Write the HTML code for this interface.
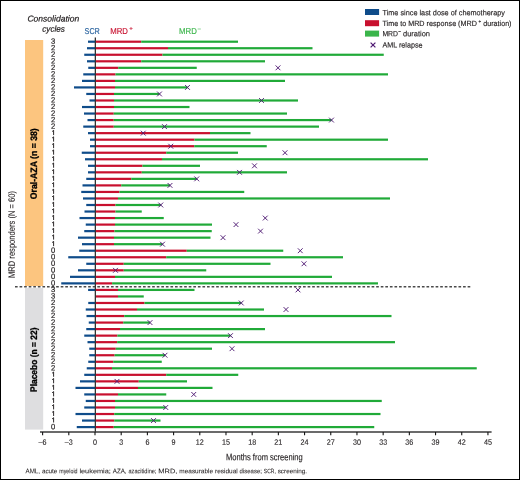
<!DOCTYPE html><html><head><meta charset="utf-8"><title>MRD responders swimmer plot</title><style>html,body{margin:0;padding:0;background:#fff;}svg{display:block;will-change:transform;}text{font-family:"Liberation Sans",sans-serif;}</style></head><body>
<svg width="520" height="480" viewBox="0 0 520 480">
<rect x="0" y="0" width="520" height="480" fill="#fff"/>
<rect x="25" y="40" width="18.2" height="246" fill="#FCC57F"/>
<rect x="25" y="288" width="18.2" height="141.6" fill="#DEDEE0"/>
<line x1="15" y1="286.75" x2="470.7" y2="286.75" stroke="#4a4a4a" stroke-width="1.45" stroke-dasharray="2.65 1.922"/>
<text transform="translate(14.8,234.5) rotate(-89.95)" font-size="9.2" fill="#231F20" text-anchor="middle" textLength="87" lengthAdjust="spacingAndGlyphs" stroke="#231F20" stroke-width="0.12">MRD responders (N = 60)</text>
<text transform="translate(36.9,163.75) rotate(-89.95)" font-size="9.3" fill="#000" text-anchor="middle" font-weight="bold" textLength="71" lengthAdjust="spacingAndGlyphs" stroke="#000" stroke-width="0.3">Oral-AZA (n = 38)</text>
<text transform="translate(36.9,359.75) rotate(-89.95)" font-size="9.3" fill="#000" text-anchor="middle" font-weight="bold" textLength="64.5" lengthAdjust="spacingAndGlyphs" stroke="#000" stroke-width="0.3">Placebo (n = 22)</text>
<text transform="rotate(0.05 53.3 21.6)" x="53.3" y="21.6" font-size="8.5" fill="#231F20" text-anchor="middle" font-style="italic" textLength="51.8" lengthAdjust="spacingAndGlyphs" stroke="#231F20" stroke-width="0.22">Consolidation</text>
<text transform="rotate(0.05 53.6 31.8)" x="53.6" y="31.8" font-size="8.5" fill="#231F20" text-anchor="middle" font-style="italic" textLength="22.6" lengthAdjust="spacingAndGlyphs" stroke="#231F20" stroke-width="0.22">cycles</text>
<text transform="rotate(0.05 84.6 33.9)" x="84.6" y="33.9" font-size="8.5" fill="#336AA3" textLength="15.2" lengthAdjust="spacingAndGlyphs" stroke="#336AA3" stroke-width="0.22">SCR</text>
<text transform="rotate(0.05 110.2 33.9)" x="110.2" y="33.9" font-size="8.5" fill="#C8102E" textLength="17.7" lengthAdjust="spacingAndGlyphs" stroke="#C8102E" stroke-width="0.15">MRD</text>
<text transform="rotate(0.05 129.25 30.6)" x="129.25" y="30.6" font-size="6" fill="#C8102E" stroke="#C8102E" stroke-width="0.15">+</text>
<text transform="rotate(0.05 179 33.9)" x="179" y="33.9" font-size="8.5" fill="#3AB54A" textLength="17.8" lengthAdjust="spacingAndGlyphs" stroke="#3AB54A" stroke-width="0.15">MRD</text>
<text transform="rotate(0.05 197.6 30.9)" x="197.6" y="30.9" font-size="6" fill="#3AB54A" stroke="#3AB54A" stroke-width="0.15">−</text>
<rect x="88" y="40.6" width="7" height="2.2" fill="#0F4C8A"/><rect x="95" y="40.6" width="46.25" height="2.2" fill="#C8102E"/><rect x="141.25" y="40.6" width="96.75" height="2.2" fill="#20AA38"/><rect x="87" y="47.13" width="8" height="2.2" fill="#0F4C8A"/><rect x="95" y="47.13" width="73" height="2.2" fill="#C8102E"/><rect x="168" y="47.13" width="144.5" height="2.2" fill="#20AA38"/><rect x="84.25" y="53.66" width="10.75" height="2.2" fill="#0F4C8A"/><rect x="95" y="53.66" width="67.5" height="2.2" fill="#C8102E"/><rect x="162.5" y="53.66" width="221.25" height="2.2" fill="#20AA38"/><rect x="87" y="60.2" width="8" height="2.2" fill="#0F4C8A"/><rect x="95" y="60.2" width="46.25" height="2.2" fill="#C8102E"/><rect x="141.25" y="60.2" width="123.75" height="2.2" fill="#20AA38"/><rect x="88.25" y="66.73" width="6.75" height="2.2" fill="#0F4C8A"/><rect x="95" y="66.73" width="23.25" height="2.2" fill="#C8102E"/><rect x="118.25" y="66.73" width="78.5" height="2.2" fill="#20AA38"/><rect x="83.25" y="73.26" width="11.75" height="2.2" fill="#0F4C8A"/><rect x="95" y="73.26" width="20.5" height="2.2" fill="#C8102E"/><rect x="115.5" y="73.26" width="272.5" height="2.2" fill="#20AA38"/><rect x="82" y="79.79" width="13" height="2.2" fill="#0F4C8A"/><rect x="95" y="79.79" width="20" height="2.2" fill="#C8102E"/><rect x="115" y="79.79" width="170" height="2.2" fill="#20AA38"/><rect x="74" y="86.32" width="21" height="2.2" fill="#0F4C8A"/><rect x="95" y="86.32" width="20" height="2.2" fill="#C8102E"/><rect x="115" y="86.32" width="72.5" height="2.2" fill="#20AA38"/><rect x="86.25" y="92.86" width="8.75" height="2.2" fill="#0F4C8A"/><rect x="95" y="92.86" width="19" height="2.2" fill="#C8102E"/><rect x="114" y="92.86" width="45.5" height="2.2" fill="#20AA38"/><rect x="89.5" y="99.39" width="5.5" height="2.2" fill="#0F4C8A"/><rect x="95" y="99.39" width="19" height="2.2" fill="#C8102E"/><rect x="114" y="99.39" width="184" height="2.2" fill="#20AA38"/><rect x="82" y="105.92" width="13" height="2.2" fill="#0F4C8A"/><rect x="95" y="105.92" width="19" height="2.2" fill="#C8102E"/><rect x="114" y="105.92" width="75.5" height="2.2" fill="#20AA38"/><rect x="84" y="112.45" width="11" height="2.2" fill="#0F4C8A"/><rect x="95" y="112.45" width="18.75" height="2.2" fill="#C8102E"/><rect x="113.75" y="112.45" width="173.25" height="2.2" fill="#20AA38"/><rect x="87.5" y="118.98" width="7.5" height="2.2" fill="#0F4C8A"/><rect x="95" y="118.98" width="18.75" height="2.2" fill="#C8102E"/><rect x="113.75" y="118.98" width="217.75" height="2.2" fill="#20AA38"/><rect x="83.25" y="125.52" width="11.75" height="2.2" fill="#0F4C8A"/><rect x="95" y="125.52" width="18.75" height="2.2" fill="#C8102E"/><rect x="113.75" y="125.52" width="205.25" height="2.2" fill="#20AA38"/><rect x="88" y="132.05" width="7" height="2.2" fill="#0F4C8A"/><rect x="95" y="132.05" width="115" height="2.2" fill="#C8102E"/><rect x="210" y="132.05" width="40.5" height="2.2" fill="#20AA38"/><rect x="90" y="138.58" width="5" height="2.2" fill="#0F4C8A"/><rect x="95" y="138.58" width="99.5" height="2.2" fill="#C8102E"/><rect x="194.5" y="138.58" width="193.5" height="2.2" fill="#20AA38"/><rect x="90" y="145.11" width="5" height="2.2" fill="#0F4C8A"/><rect x="95" y="145.11" width="99.25" height="2.2" fill="#C8102E"/><rect x="194.25" y="145.11" width="72.5" height="2.2" fill="#20AA38"/><rect x="81.75" y="151.64" width="13.25" height="2.2" fill="#0F4C8A"/><rect x="95" y="151.64" width="71.25" height="2.2" fill="#C8102E"/><rect x="166.25" y="151.64" width="71.75" height="2.2" fill="#20AA38"/><rect x="85" y="158.18" width="10" height="2.2" fill="#0F4C8A"/><rect x="95" y="158.18" width="67" height="2.2" fill="#C8102E"/><rect x="162" y="158.18" width="266" height="2.2" fill="#20AA38"/><rect x="88" y="164.71" width="7" height="2.2" fill="#0F4C8A"/><rect x="95" y="164.71" width="47.5" height="2.2" fill="#C8102E"/><rect x="142.5" y="164.71" width="57.5" height="2.2" fill="#20AA38"/><rect x="88" y="171.24" width="7" height="2.2" fill="#0F4C8A"/><rect x="95" y="171.24" width="46.75" height="2.2" fill="#C8102E"/><rect x="141.75" y="171.24" width="145.25" height="2.2" fill="#20AA38"/><rect x="86.25" y="177.77" width="8.75" height="2.2" fill="#0F4C8A"/><rect x="95" y="177.77" width="36.25" height="2.2" fill="#C8102E"/><rect x="131.25" y="177.77" width="65.5" height="2.2" fill="#20AA38"/><rect x="82.5" y="184.3" width="12.5" height="2.2" fill="#0F4C8A"/><rect x="95" y="184.3" width="26.25" height="2.2" fill="#C8102E"/><rect x="121.25" y="184.3" width="48.75" height="2.2" fill="#20AA38"/><rect x="81.25" y="190.84" width="13.75" height="2.2" fill="#0F4C8A"/><rect x="95" y="190.84" width="24.5" height="2.2" fill="#C8102E"/><rect x="119.5" y="190.84" width="124.75" height="2.2" fill="#20AA38"/><rect x="83" y="197.37" width="12" height="2.2" fill="#0F4C8A"/><rect x="95" y="197.37" width="23" height="2.2" fill="#C8102E"/><rect x="118" y="197.37" width="272" height="2.2" fill="#20AA38"/><rect x="86.25" y="203.9" width="8.75" height="2.2" fill="#0F4C8A"/><rect x="95" y="203.9" width="20.5" height="2.2" fill="#C8102E"/><rect x="115.5" y="203.9" width="45.25" height="2.2" fill="#20AA38"/><rect x="84.5" y="210.43" width="10.5" height="2.2" fill="#0F4C8A"/><rect x="95" y="210.43" width="20.5" height="2.2" fill="#C8102E"/><rect x="115.5" y="210.43" width="26.25" height="2.2" fill="#20AA38"/><rect x="79.5" y="216.96" width="15.5" height="2.2" fill="#0F4C8A"/><rect x="95" y="216.96" width="20" height="2.2" fill="#C8102E"/><rect x="115" y="216.96" width="48.75" height="2.2" fill="#20AA38"/><rect x="85.75" y="223.5" width="9.25" height="2.2" fill="#0F4C8A"/><rect x="95" y="223.5" width="20" height="2.2" fill="#C8102E"/><rect x="115" y="223.5" width="97" height="2.2" fill="#20AA38"/><rect x="84.25" y="230.03" width="10.75" height="2.2" fill="#0F4C8A"/><rect x="95" y="230.03" width="19.5" height="2.2" fill="#C8102E"/><rect x="114.5" y="230.03" width="97.25" height="2.2" fill="#20AA38"/><rect x="78" y="236.56" width="17" height="2.2" fill="#0F4C8A"/><rect x="95" y="236.56" width="19" height="2.2" fill="#C8102E"/><rect x="114" y="236.56" width="96.5" height="2.2" fill="#20AA38"/><rect x="82" y="243.09" width="13" height="2.2" fill="#0F4C8A"/><rect x="95" y="243.09" width="19" height="2.2" fill="#C8102E"/><rect x="114" y="243.09" width="48.5" height="2.2" fill="#20AA38"/><rect x="79.25" y="249.62" width="15.75" height="2.2" fill="#0F4C8A"/><rect x="95" y="249.62" width="91.75" height="2.2" fill="#C8102E"/><rect x="186.75" y="249.62" width="96.5" height="2.2" fill="#20AA38"/><rect x="68.25" y="256.16" width="26.75" height="2.2" fill="#0F4C8A"/><rect x="95" y="256.16" width="71.25" height="2.2" fill="#C8102E"/><rect x="166.25" y="256.16" width="176.75" height="2.2" fill="#20AA38"/><rect x="86.25" y="262.69" width="8.75" height="2.2" fill="#0F4C8A"/><rect x="95" y="262.69" width="28.75" height="2.2" fill="#C8102E"/><rect x="123.75" y="262.69" width="146.75" height="2.2" fill="#20AA38"/><rect x="78" y="269.22" width="17" height="2.2" fill="#0F4C8A"/><rect x="95" y="269.22" width="28.75" height="2.2" fill="#C8102E"/><rect x="123.75" y="269.22" width="82.5" height="2.2" fill="#20AA38"/><rect x="70" y="275.75" width="25" height="2.2" fill="#0F4C8A"/><rect x="95" y="275.75" width="20" height="2.2" fill="#C8102E"/><rect x="115" y="275.75" width="217" height="2.2" fill="#20AA38"/><rect x="61.25" y="282.28" width="33.75" height="2.2" fill="#0F4C8A"/><rect x="95" y="282.28" width="17.1" height="2.2" fill="#C8102E"/><rect x="112.1" y="282.28" width="265.9" height="2.2" fill="#20AA38"/><rect x="88.1" y="288.82" width="6.9" height="2.2" fill="#0F4C8A"/><rect x="95" y="288.82" width="23" height="2.2" fill="#C8102E"/><rect x="118" y="288.82" width="76.5" height="2.2" fill="#20AA38"/><rect x="95" y="295.35" width="23" height="2.2" fill="#C8102E"/><rect x="118" y="295.35" width="25.75" height="2.2" fill="#20AA38"/><rect x="88.25" y="301.88" width="6.75" height="2.2" fill="#0F4C8A"/><rect x="95" y="301.88" width="49.5" height="2.2" fill="#C8102E"/><rect x="144.5" y="301.88" width="96.75" height="2.2" fill="#20AA38"/><rect x="85.75" y="308.41" width="9.25" height="2.2" fill="#0F4C8A"/><rect x="95" y="308.41" width="42" height="2.2" fill="#C8102E"/><rect x="137" y="308.41" width="127" height="2.2" fill="#20AA38"/><rect x="86.5" y="314.94" width="8.5" height="2.2" fill="#0F4C8A"/><rect x="95" y="314.94" width="29.25" height="2.2" fill="#C8102E"/><rect x="124.25" y="314.94" width="267.25" height="2.2" fill="#20AA38"/><rect x="88.75" y="321.48" width="6.25" height="2.2" fill="#0F4C8A"/><rect x="95" y="321.48" width="28.25" height="2.2" fill="#C8102E"/><rect x="123.25" y="321.48" width="26.75" height="2.2" fill="#20AA38"/><rect x="86.25" y="328.01" width="8.75" height="2.2" fill="#0F4C8A"/><rect x="95" y="328.01" width="25" height="2.2" fill="#C8102E"/><rect x="120" y="328.01" width="145" height="2.2" fill="#20AA38"/><rect x="84.25" y="334.54" width="10.75" height="2.2" fill="#0F4C8A"/><rect x="95" y="334.54" width="22.4" height="2.2" fill="#C8102E"/><rect x="117.4" y="334.54" width="113.1" height="2.2" fill="#20AA38"/><rect x="87.5" y="341.07" width="7.5" height="2.2" fill="#0F4C8A"/><rect x="95" y="341.07" width="22.2" height="2.2" fill="#C8102E"/><rect x="117.2" y="341.07" width="277.8" height="2.2" fill="#20AA38"/><rect x="89.25" y="347.6" width="5.75" height="2.2" fill="#0F4C8A"/><rect x="95" y="347.6" width="20.8" height="2.2" fill="#C8102E"/><rect x="115.8" y="347.6" width="96.2" height="2.2" fill="#20AA38"/><rect x="89.25" y="354.14" width="5.75" height="2.2" fill="#0F4C8A"/><rect x="95" y="354.14" width="19.6" height="2.2" fill="#C8102E"/><rect x="114.6" y="354.14" width="50.4" height="2.2" fill="#20AA38"/><rect x="88.25" y="360.67" width="6.75" height="2.2" fill="#0F4C8A"/><rect x="95" y="360.67" width="18.25" height="2.2" fill="#C8102E"/><rect x="113.25" y="360.67" width="48.5" height="2.2" fill="#20AA38"/><rect x="86.75" y="367.2" width="8.25" height="2.2" fill="#0F4C8A"/><rect x="95" y="367.2" width="17" height="2.2" fill="#C8102E"/><rect x="112" y="367.2" width="364.75" height="2.2" fill="#20AA38"/><rect x="84.25" y="373.73" width="10.75" height="2.2" fill="#0F4C8A"/><rect x="95" y="373.73" width="71.25" height="2.2" fill="#C8102E"/><rect x="166.25" y="373.73" width="72" height="2.2" fill="#20AA38"/><rect x="80" y="380.26" width="15" height="2.2" fill="#0F4C8A"/><rect x="95" y="380.26" width="43.75" height="2.2" fill="#C8102E"/><rect x="138.75" y="380.26" width="48.25" height="2.2" fill="#20AA38"/><rect x="75.5" y="386.8" width="19.5" height="2.2" fill="#0F4C8A"/><rect x="95" y="386.8" width="43" height="2.2" fill="#C8102E"/><rect x="138" y="386.8" width="74.5" height="2.2" fill="#20AA38"/><rect x="84.25" y="393.33" width="10.75" height="2.2" fill="#0F4C8A"/><rect x="95" y="393.33" width="23" height="2.2" fill="#C8102E"/><rect x="118" y="393.33" width="48.25" height="2.2" fill="#20AA38"/><rect x="85.75" y="399.86" width="9.25" height="2.2" fill="#0F4C8A"/><rect x="95" y="399.86" width="20" height="2.2" fill="#C8102E"/><rect x="115" y="399.86" width="266.75" height="2.2" fill="#20AA38"/><rect x="84.25" y="406.39" width="10.75" height="2.2" fill="#0F4C8A"/><rect x="95" y="406.39" width="20" height="2.2" fill="#C8102E"/><rect x="115" y="406.39" width="50.75" height="2.2" fill="#20AA38"/><rect x="75.5" y="412.92" width="19.5" height="2.2" fill="#0F4C8A"/><rect x="95" y="412.92" width="19.25" height="2.2" fill="#C8102E"/><rect x="114.25" y="412.92" width="266.25" height="2.2" fill="#20AA38"/><rect x="82" y="419.46" width="13" height="2.2" fill="#0F4C8A"/><rect x="95" y="419.46" width="19.25" height="2.2" fill="#C8102E"/><rect x="114.25" y="419.46" width="46.25" height="2.2" fill="#20AA38"/><rect x="76.75" y="425.99" width="18.25" height="2.2" fill="#0F4C8A"/><rect x="95" y="425.99" width="18.75" height="2.2" fill="#C8102E"/><rect x="113.75" y="425.99" width="260.5" height="2.2" fill="#20AA38"/>
<line x1="95.35" y1="37.4" x2="95.35" y2="432" stroke="#333" stroke-width="1.3"/>
<path d="M275.6 65.43L280.4 70.23M275.6 70.23L280.4 65.43M185.1 85.02L189.9 89.82M185.1 89.82L189.9 85.02M157.1 91.56L161.9 96.36M157.1 96.36L161.9 91.56M259.1 98.09L263.9 102.89M259.1 102.89L263.9 98.09M329.1 117.68L333.9 122.48M329.1 122.48L333.9 117.68M162.1 124.22L166.9 129.02M162.1 129.02L166.9 124.22M140.85 130.75L145.65 135.55M140.85 135.55L145.65 130.75M168.35 143.81L173.15 148.61M168.35 148.61L173.15 143.81M282.6 150.34L287.4 155.14M282.6 155.14L287.4 150.34M252.1 163.41L256.9 168.21M252.1 168.21L256.9 163.41M237.1 169.94L241.9 174.74M237.1 174.74L241.9 169.94M194.35 176.47L199.15 181.27M194.35 181.27L199.15 176.47M167.6 183L172.4 187.8M167.6 187.8L172.4 183M158.35 202.6L163.15 207.4M158.35 207.4L163.15 202.6M262.85 215.66L267.65 220.46M262.85 220.46L267.65 215.66M233.6 222.2L238.4 227M233.6 227L238.4 222.2M258.1 228.73L262.9 233.53M258.1 233.53L262.9 228.73M220.6 235.26L225.4 240.06M220.6 240.06L225.4 235.26M160.1 241.79L164.9 246.59M160.1 246.59L164.9 241.79M297.85 248.32L302.65 253.12M297.85 253.12L302.65 248.32M301.6 261.39L306.4 266.19M301.6 266.19L306.4 261.39M113.1 267.92L117.9 272.72M113.1 272.72L117.9 267.92M295.6 287.52L300.4 292.32M295.6 292.32L300.4 287.52M238.85 300.58L243.65 305.38M238.85 305.38L243.65 300.58M283.6 307.11L288.4 311.91M283.6 311.91L288.4 307.11M147.6 320.18L152.4 324.98M147.6 324.98L152.4 320.18M228.1 333.24L232.9 338.04M228.1 338.04L232.9 333.24M229.6 346.3L234.4 351.1M229.6 351.1L234.4 346.3M162.6 352.84L167.4 357.64M162.6 357.64L167.4 352.84M114.6 378.96L119.4 383.76M114.6 383.76L119.4 378.96M191.35 392.03L196.15 396.83M191.35 396.83L196.15 392.03M163.35 405.09L168.15 409.89M163.35 409.89L168.15 405.09M151.1 418.16L155.9 422.96M151.1 422.96L155.9 418.16" fill="none" stroke="#4F1A73" stroke-width="0.95"/>
<g fill="#231F20" stroke="#231F20" stroke-width="0.2"><text transform="rotate(0.05 53.15 43.8)" x="53.15" y="43.8" font-size="7.6" text-anchor="middle">3</text><text transform="rotate(0.05 53.15 50.33)" x="53.15" y="50.33" font-size="7.6" text-anchor="middle">2</text><text transform="rotate(0.05 53.15 56.86)" x="53.15" y="56.86" font-size="7.6" text-anchor="middle">2</text><text transform="rotate(0.05 53.15 63.4)" x="53.15" y="63.4" font-size="7.6" text-anchor="middle">2</text><text transform="rotate(0.05 53.15 69.93)" x="53.15" y="69.93" font-size="7.6" text-anchor="middle">2</text><text transform="rotate(0.05 53.15 76.46)" x="53.15" y="76.46" font-size="7.6" text-anchor="middle">2</text><text transform="rotate(0.05 53.15 82.99)" x="53.15" y="82.99" font-size="7.6" text-anchor="middle">2</text><text transform="rotate(0.05 53.15 89.52)" x="53.15" y="89.52" font-size="7.6" text-anchor="middle">2</text><text transform="rotate(0.05 53.15 96.06)" x="53.15" y="96.06" font-size="7.6" text-anchor="middle">2</text><text transform="rotate(0.05 53.15 102.59)" x="53.15" y="102.59" font-size="7.6" text-anchor="middle">2</text><text transform="rotate(0.05 53.15 109.12)" x="53.15" y="109.12" font-size="7.6" text-anchor="middle">2</text><text transform="rotate(0.05 53.15 115.65)" x="53.15" y="115.65" font-size="7.6" text-anchor="middle">2</text><text transform="rotate(0.05 53.15 122.18)" x="53.15" y="122.18" font-size="7.6" text-anchor="middle">2</text><text transform="rotate(0.05 53.15 128.72)" x="53.15" y="128.72" font-size="7.6" text-anchor="middle">2</text><text transform="rotate(0.05 53.15 252.82)" x="53.15" y="252.82" font-size="7.6" text-anchor="middle">0</text><text transform="rotate(0.05 53.15 259.36)" x="53.15" y="259.36" font-size="7.6" text-anchor="middle">0</text><text transform="rotate(0.05 53.15 265.89)" x="53.15" y="265.89" font-size="7.6" text-anchor="middle">0</text><text transform="rotate(0.05 53.15 272.42)" x="53.15" y="272.42" font-size="7.6" text-anchor="middle">0</text><text transform="rotate(0.05 53.15 278.95)" x="53.15" y="278.95" font-size="7.6" text-anchor="middle">0</text><text transform="rotate(0.05 53.15 285.48)" x="53.15" y="285.48" font-size="7.6" text-anchor="middle">0</text><text transform="rotate(0.05 53.15 292.02)" x="53.15" y="292.02" font-size="7.6" text-anchor="middle">3</text><text transform="rotate(0.05 53.15 298.55)" x="53.15" y="298.55" font-size="7.6" text-anchor="middle">3</text><text transform="rotate(0.05 53.15 305.08)" x="53.15" y="305.08" font-size="7.6" text-anchor="middle">2</text><text transform="rotate(0.05 53.15 311.61)" x="53.15" y="311.61" font-size="7.6" text-anchor="middle">2</text><text transform="rotate(0.05 53.15 318.14)" x="53.15" y="318.14" font-size="7.6" text-anchor="middle">2</text><text transform="rotate(0.05 53.15 324.68)" x="53.15" y="324.68" font-size="7.6" text-anchor="middle">2</text><text transform="rotate(0.05 53.15 331.21)" x="53.15" y="331.21" font-size="7.6" text-anchor="middle">2</text><text transform="rotate(0.05 53.15 337.74)" x="53.15" y="337.74" font-size="7.6" text-anchor="middle">2</text><text transform="rotate(0.05 53.15 344.27)" x="53.15" y="344.27" font-size="7.6" text-anchor="middle">2</text><text transform="rotate(0.05 53.15 350.8)" x="53.15" y="350.8" font-size="7.6" text-anchor="middle">2</text><text transform="rotate(0.05 53.15 357.34)" x="53.15" y="357.34" font-size="7.6" text-anchor="middle">2</text><text transform="rotate(0.05 53.15 363.87)" x="53.15" y="363.87" font-size="7.6" text-anchor="middle">2</text><text transform="rotate(0.05 53.15 370.4)" x="53.15" y="370.4" font-size="7.6" text-anchor="middle">2</text><text transform="rotate(0.05 53.15 429.19)" x="53.15" y="429.19" font-size="7.6" text-anchor="middle">0</text></g>
<path d="M53.6 130.2V135.1M53.6 130.4L52.1 131.5M53.6 136.73V141.63M53.6 136.93L52.1 138.03M53.6 143.26V148.16M53.6 143.46L52.1 144.56M53.6 149.79V154.69M53.6 149.99L52.1 151.09M53.6 156.33V161.23M53.6 156.53L52.1 157.63M53.6 162.86V167.76M53.6 163.06L52.1 164.16M53.6 169.39V174.29M53.6 169.59L52.1 170.69M53.6 175.92V180.82M53.6 176.12L52.1 177.22M53.6 182.45V187.35M53.6 182.65L52.1 183.75M53.6 188.99V193.89M53.6 189.19L52.1 190.29M53.6 195.52V200.42M53.6 195.72L52.1 196.82M53.6 202.05V206.95M53.6 202.25L52.1 203.35M53.6 208.58V213.48M53.6 208.78L52.1 209.88M53.6 215.11V220.01M53.6 215.31L52.1 216.41M53.6 221.65V226.55M53.6 221.85L52.1 222.95M53.6 228.18V233.08M53.6 228.38L52.1 229.48M53.6 234.71V239.61M53.6 234.91L52.1 236.01M53.6 241.24V246.14M53.6 241.44L52.1 242.54M53.6 371.88V376.78M53.6 372.08L52.1 373.18M53.6 378.41V383.31M53.6 378.61L52.1 379.71M53.6 384.95V389.85M53.6 385.15L52.1 386.25M53.6 391.48V396.38M53.6 391.68L52.1 392.78M53.6 398.01V402.91M53.6 398.21L52.1 399.31M53.6 404.54V409.44M53.6 404.74L52.1 405.84M53.6 411.07V415.97M53.6 411.27L52.1 412.37M53.6 417.61V422.51M53.6 417.81L52.1 418.91" stroke="#231F20" stroke-width="0.95" fill="none"/>
<line x1="40" y1="431.9" x2="491.6" y2="431.9" stroke="#3a3a3a" stroke-width="1.5"/>
<path d="M42.61 432V435.2M68.8 432V435.2M95 432V435.2M121.2 432V435.2M147.39 432V435.2M173.59 432V435.2M199.78 432V435.2M225.98 432V435.2M252.18 432V435.2M278.37 432V435.2M304.57 432V435.2M330.76 432V435.2M356.96 432V435.2M383.16 432V435.2M409.35 432V435.2M435.55 432V435.2M461.74 432V435.2M487.94 432V435.2" stroke="#151515" stroke-width="1.1"/>
<g fill="#231F20" stroke="#231F20" stroke-width="0.12"><text transform="rotate(0.05 42.61 444.8)" x="42.61" y="444.8" font-size="7.8" text-anchor="middle" textLength="8" lengthAdjust="spacingAndGlyphs">–6</text><text transform="rotate(0.05 68.8 444.8)" x="68.8" y="444.8" font-size="7.8" text-anchor="middle" textLength="8" lengthAdjust="spacingAndGlyphs">–3</text><text transform="rotate(0.05 95 444.8)" x="95" y="444.8" font-size="7.8" text-anchor="middle" textLength="4" lengthAdjust="spacingAndGlyphs">0</text><text transform="rotate(0.05 121.2 444.8)" x="121.2" y="444.8" font-size="7.8" text-anchor="middle" textLength="4" lengthAdjust="spacingAndGlyphs">3</text><text transform="rotate(0.05 147.39 444.8)" x="147.39" y="444.8" font-size="7.8" text-anchor="middle" textLength="4" lengthAdjust="spacingAndGlyphs">6</text><text transform="rotate(0.05 173.59 444.8)" x="173.59" y="444.8" font-size="7.8" text-anchor="middle" textLength="4" lengthAdjust="spacingAndGlyphs">9</text><text transform="rotate(0.05 199.78 444.8)" x="199.78" y="444.8" font-size="7.8" text-anchor="middle" textLength="8" lengthAdjust="spacingAndGlyphs">12</text><text transform="rotate(0.05 225.98 444.8)" x="225.98" y="444.8" font-size="7.8" text-anchor="middle" textLength="8" lengthAdjust="spacingAndGlyphs">15</text><text transform="rotate(0.05 252.18 444.8)" x="252.18" y="444.8" font-size="7.8" text-anchor="middle" textLength="8" lengthAdjust="spacingAndGlyphs">18</text><text transform="rotate(0.05 278.37 444.8)" x="278.37" y="444.8" font-size="7.8" text-anchor="middle" textLength="8" lengthAdjust="spacingAndGlyphs">21</text><text transform="rotate(0.05 304.57 444.8)" x="304.57" y="444.8" font-size="7.8" text-anchor="middle" textLength="8" lengthAdjust="spacingAndGlyphs">24</text><text transform="rotate(0.05 330.76 444.8)" x="330.76" y="444.8" font-size="7.8" text-anchor="middle" textLength="8" lengthAdjust="spacingAndGlyphs">27</text><text transform="rotate(0.05 356.96 444.8)" x="356.96" y="444.8" font-size="7.8" text-anchor="middle" textLength="8" lengthAdjust="spacingAndGlyphs">30</text><text transform="rotate(0.05 383.16 444.8)" x="383.16" y="444.8" font-size="7.8" text-anchor="middle" textLength="8" lengthAdjust="spacingAndGlyphs">33</text><text transform="rotate(0.05 409.35 444.8)" x="409.35" y="444.8" font-size="7.8" text-anchor="middle" textLength="8" lengthAdjust="spacingAndGlyphs">36</text><text transform="rotate(0.05 435.55 444.8)" x="435.55" y="444.8" font-size="7.8" text-anchor="middle" textLength="8" lengthAdjust="spacingAndGlyphs">39</text><text transform="rotate(0.05 461.74 444.8)" x="461.74" y="444.8" font-size="7.8" text-anchor="middle" textLength="8" lengthAdjust="spacingAndGlyphs">42</text><text transform="rotate(0.05 487.94 444.8)" x="487.94" y="444.8" font-size="7.8" text-anchor="middle" textLength="8" lengthAdjust="spacingAndGlyphs">45</text></g>
<text transform="rotate(0.05 264.4 460.2)" x="264.4" y="460.2" font-size="9.4" fill="#231F20" text-anchor="middle" textLength="76.7" lengthAdjust="spacingAndGlyphs" stroke="#231F20" stroke-width="0.15">Months from screening</text>
<g fill="#231F20" stroke="#231F20" stroke-width="0.06"><text transform="rotate(0.05 25.5 473.3)" x="25.5" y="473.3" font-size="6.4" textLength="14.5" lengthAdjust="spacingAndGlyphs">AML,</text><text transform="rotate(0.05 41.9 473.3)" x="41.9" y="473.3" font-size="6.4" textLength="15.5" lengthAdjust="spacingAndGlyphs">acute</text><text transform="rotate(0.05 59.3 473.3)" x="59.3" y="473.3" font-size="6.4" textLength="18.2" lengthAdjust="spacingAndGlyphs">myeloid</text><text transform="rotate(0.05 79.4 473.3)" x="79.4" y="473.3" font-size="6.4" textLength="31.5" lengthAdjust="spacingAndGlyphs">leukemia;</text><text transform="rotate(0.05 112.8 473.3)" x="112.8" y="473.3" font-size="6.4" textLength="13.8" lengthAdjust="spacingAndGlyphs">AZA,</text><text transform="rotate(0.05 128.5 473.3)" x="128.5" y="473.3" font-size="6.4" textLength="27.9" lengthAdjust="spacingAndGlyphs">azacitidine;</text><text transform="rotate(0.05 158.3 473.3)" x="158.3" y="473.3" font-size="6.4" textLength="19.1" lengthAdjust="spacingAndGlyphs">MRD,</text><text transform="rotate(0.05 179.3 473.3)" x="179.3" y="473.3" font-size="6.4" textLength="33.8" lengthAdjust="spacingAndGlyphs">measurable</text><text transform="rotate(0.05 215 473.3)" x="215" y="473.3" font-size="6.4" textLength="22.7" lengthAdjust="spacingAndGlyphs">residual</text><text transform="rotate(0.05 239.6 473.3)" x="239.6" y="473.3" font-size="6.4" textLength="22.3" lengthAdjust="spacingAndGlyphs">disease;</text><text transform="rotate(0.05 263.8 473.3)" x="263.8" y="473.3" font-size="6.4" textLength="12" lengthAdjust="spacingAndGlyphs">SCR,</text><text transform="rotate(0.05 277.7 473.3)" x="277.7" y="473.3" font-size="6.4" textLength="29.3" lengthAdjust="spacingAndGlyphs">screening.</text></g>
<rect x="365" y="9" width="14.1" height="6" fill="#0F4C8A"/>
<rect x="365" y="20.2" width="14.1" height="6" fill="#C8102E"/>
<rect x="365" y="30.6" width="14.1" height="6" fill="#3AB54A"/>
<path d="M370.6 42.6L375.4 47.4M370.6 47.4L375.4 42.6" stroke="#4F1A73" stroke-width="1.2" fill="none"/>
<g fill="#231F20" stroke="#231F20" stroke-width="0.15"><text transform="rotate(0.05 382.5 15.2)" x="382.5" y="15.2" font-size="7.6" textLength="122.4" lengthAdjust="spacingAndGlyphs">Time since last dose of chemotherapy</text><text transform="rotate(0.05 382.5 26)" x="382.5" y="26" font-size="7.6" textLength="94.4" lengthAdjust="spacingAndGlyphs">Time to MRD response (MRD</text><text transform="rotate(0.05 478.4 23)" x="478.4" y="23" font-size="4.6">+</text><text transform="rotate(0.05 483.3 26)" x="483.3" y="26" font-size="7.6" textLength="28.2" lengthAdjust="spacingAndGlyphs">duration)</text><text transform="rotate(0.05 382.4 36.2)" x="382.4" y="36.2" font-size="7.6" textLength="15.6" lengthAdjust="spacingAndGlyphs">MRD</text><text transform="rotate(0.05 398.2 33.2)" x="398.2" y="33.2" font-size="4.6">−</text><text transform="rotate(0.05 403 36.2)" x="403" y="36.2" font-size="7.6" textLength="27" lengthAdjust="spacingAndGlyphs">duration</text><text transform="rotate(0.05 382.5 47.6)" x="382.5" y="47.6" font-size="7.6" textLength="40" lengthAdjust="spacingAndGlyphs">AML relapse</text></g>
<rect x="0.5" y="0.5" width="519" height="479" fill="none" stroke="#000" stroke-width="1"/>
</svg></body></html>
